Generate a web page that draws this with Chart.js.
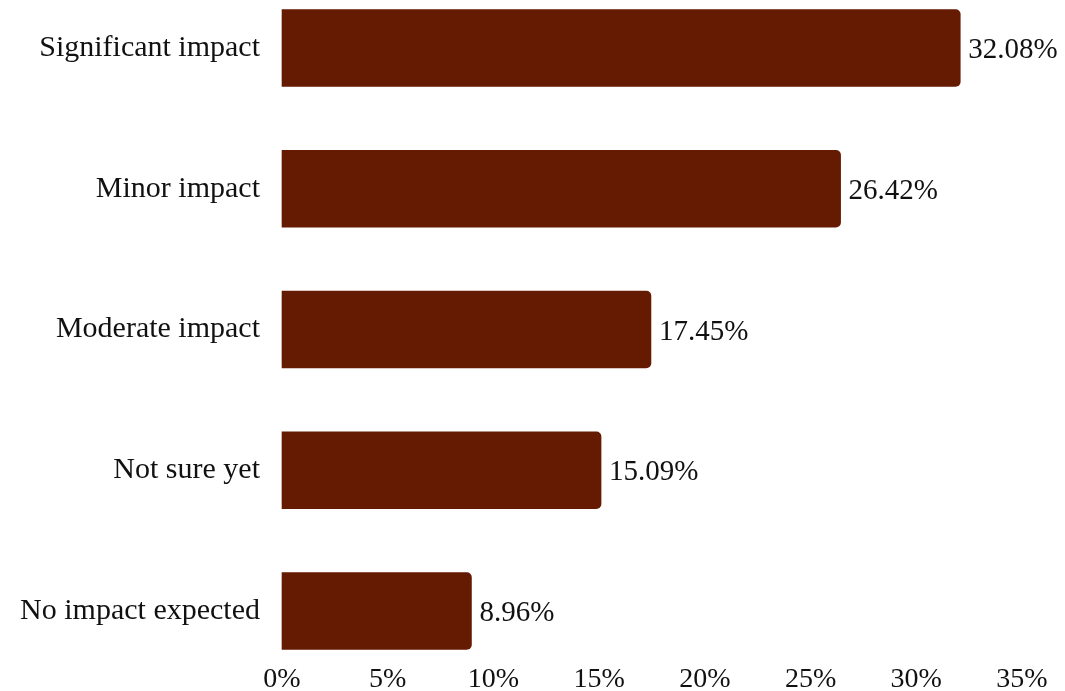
<!DOCTYPE html>
<html>
<head>
<meta charset="utf-8">
<script src="https://cdn.jsdelivr.net/npm/chart.js@4/dist/chart.umd.min.js"></script>
<style>
  html, body { margin: 0; padding: 0; background: #fff; }
  #wrap { width: 1065px; height: 691px; position: relative; }
</style>
</head>
<body>
<div id="wrap"><canvas id="c"></canvas></div>
<script>
const categories = ['Significant impact', 'Minor impact', 'Moderate impact', 'Not sure yet', 'No impact expected'];
const shares = [32.08, 26.42, 17.45, 15.09, 8.96];
const xTicks = [0, 5, 10, 15, 20, 25, 30, 35];

const FONT = '"Liberation Serif", "Times New Roman", serif';
const BAR = '#651a02';

// value labels to the right of each bar
const valueLabels = {
  id: 'valueLabels',
  afterDatasetsDraw(chart) {
    const { ctx } = chart;
    const meta = chart.getDatasetMeta(0);
    ctx.save();
    ctx.font = '29px ' + FONT;
    ctx.fillStyle = '#111';
    ctx.textAlign = 'left';
    ctx.textBaseline = 'alphabetic';
    meta.data.forEach((bar, i) => {
      ctx.fillText(shares[i].toFixed(2) + '%', bar.x + 8, bar.y + 10);
    });
    ctx.restore();
  }
};

new Chart(document.getElementById('c'), {
  type: 'bar',
  data: {
    labels: categories,
    datasets: [{
      data: shares,
      backgroundColor: BAR,
      borderRadius: 5,
      borderSkipped: 'start',
      barThickness: 77,
      clip: false
    }]
  },
  options: {
    indexAxis: 'y',
    responsive: true,
    maintainAspectRatio: false,
    animation: false,
    layout: { padding: { top: 48, bottom: 0, left: 0, right: 43 } },
    plugins: { legend: { display: false }, tooltip: { enabled: false } },
    scales: {
      x: {
        min: 0, max: 35,
        afterBuildTicks: (axis) => { axis.ticks = xTicks.map(v => ({ value: v })); },
        afterFit: (axis) => {
          axis.height = 80;
          // tick padding is only meant to push labels down, not sideways
          axis.paddingLeft = 0;
          axis.paddingRight = 0;
        },
        grid: { display: false, drawTicks: false },
        border: { display: false },
        ticks: {
          color: '#111',
          font: { family: FONT, size: 28 },
          padding: 52,
          maxRotation: 0,
          callback: (v) => v + '%'
        }
      },
      y: {
        offset: false,
        afterFit: (axis) => { axis.width = 282; },
        grid: { display: false, drawTicks: false },
        border: { display: false },
        ticks: {
          color: '#111',
          font: { family: FONT, size: 30 },
          padding: 22
        }
      }
    }
  },
  plugins: [valueLabels]
});
</script>
</body>
</html>
